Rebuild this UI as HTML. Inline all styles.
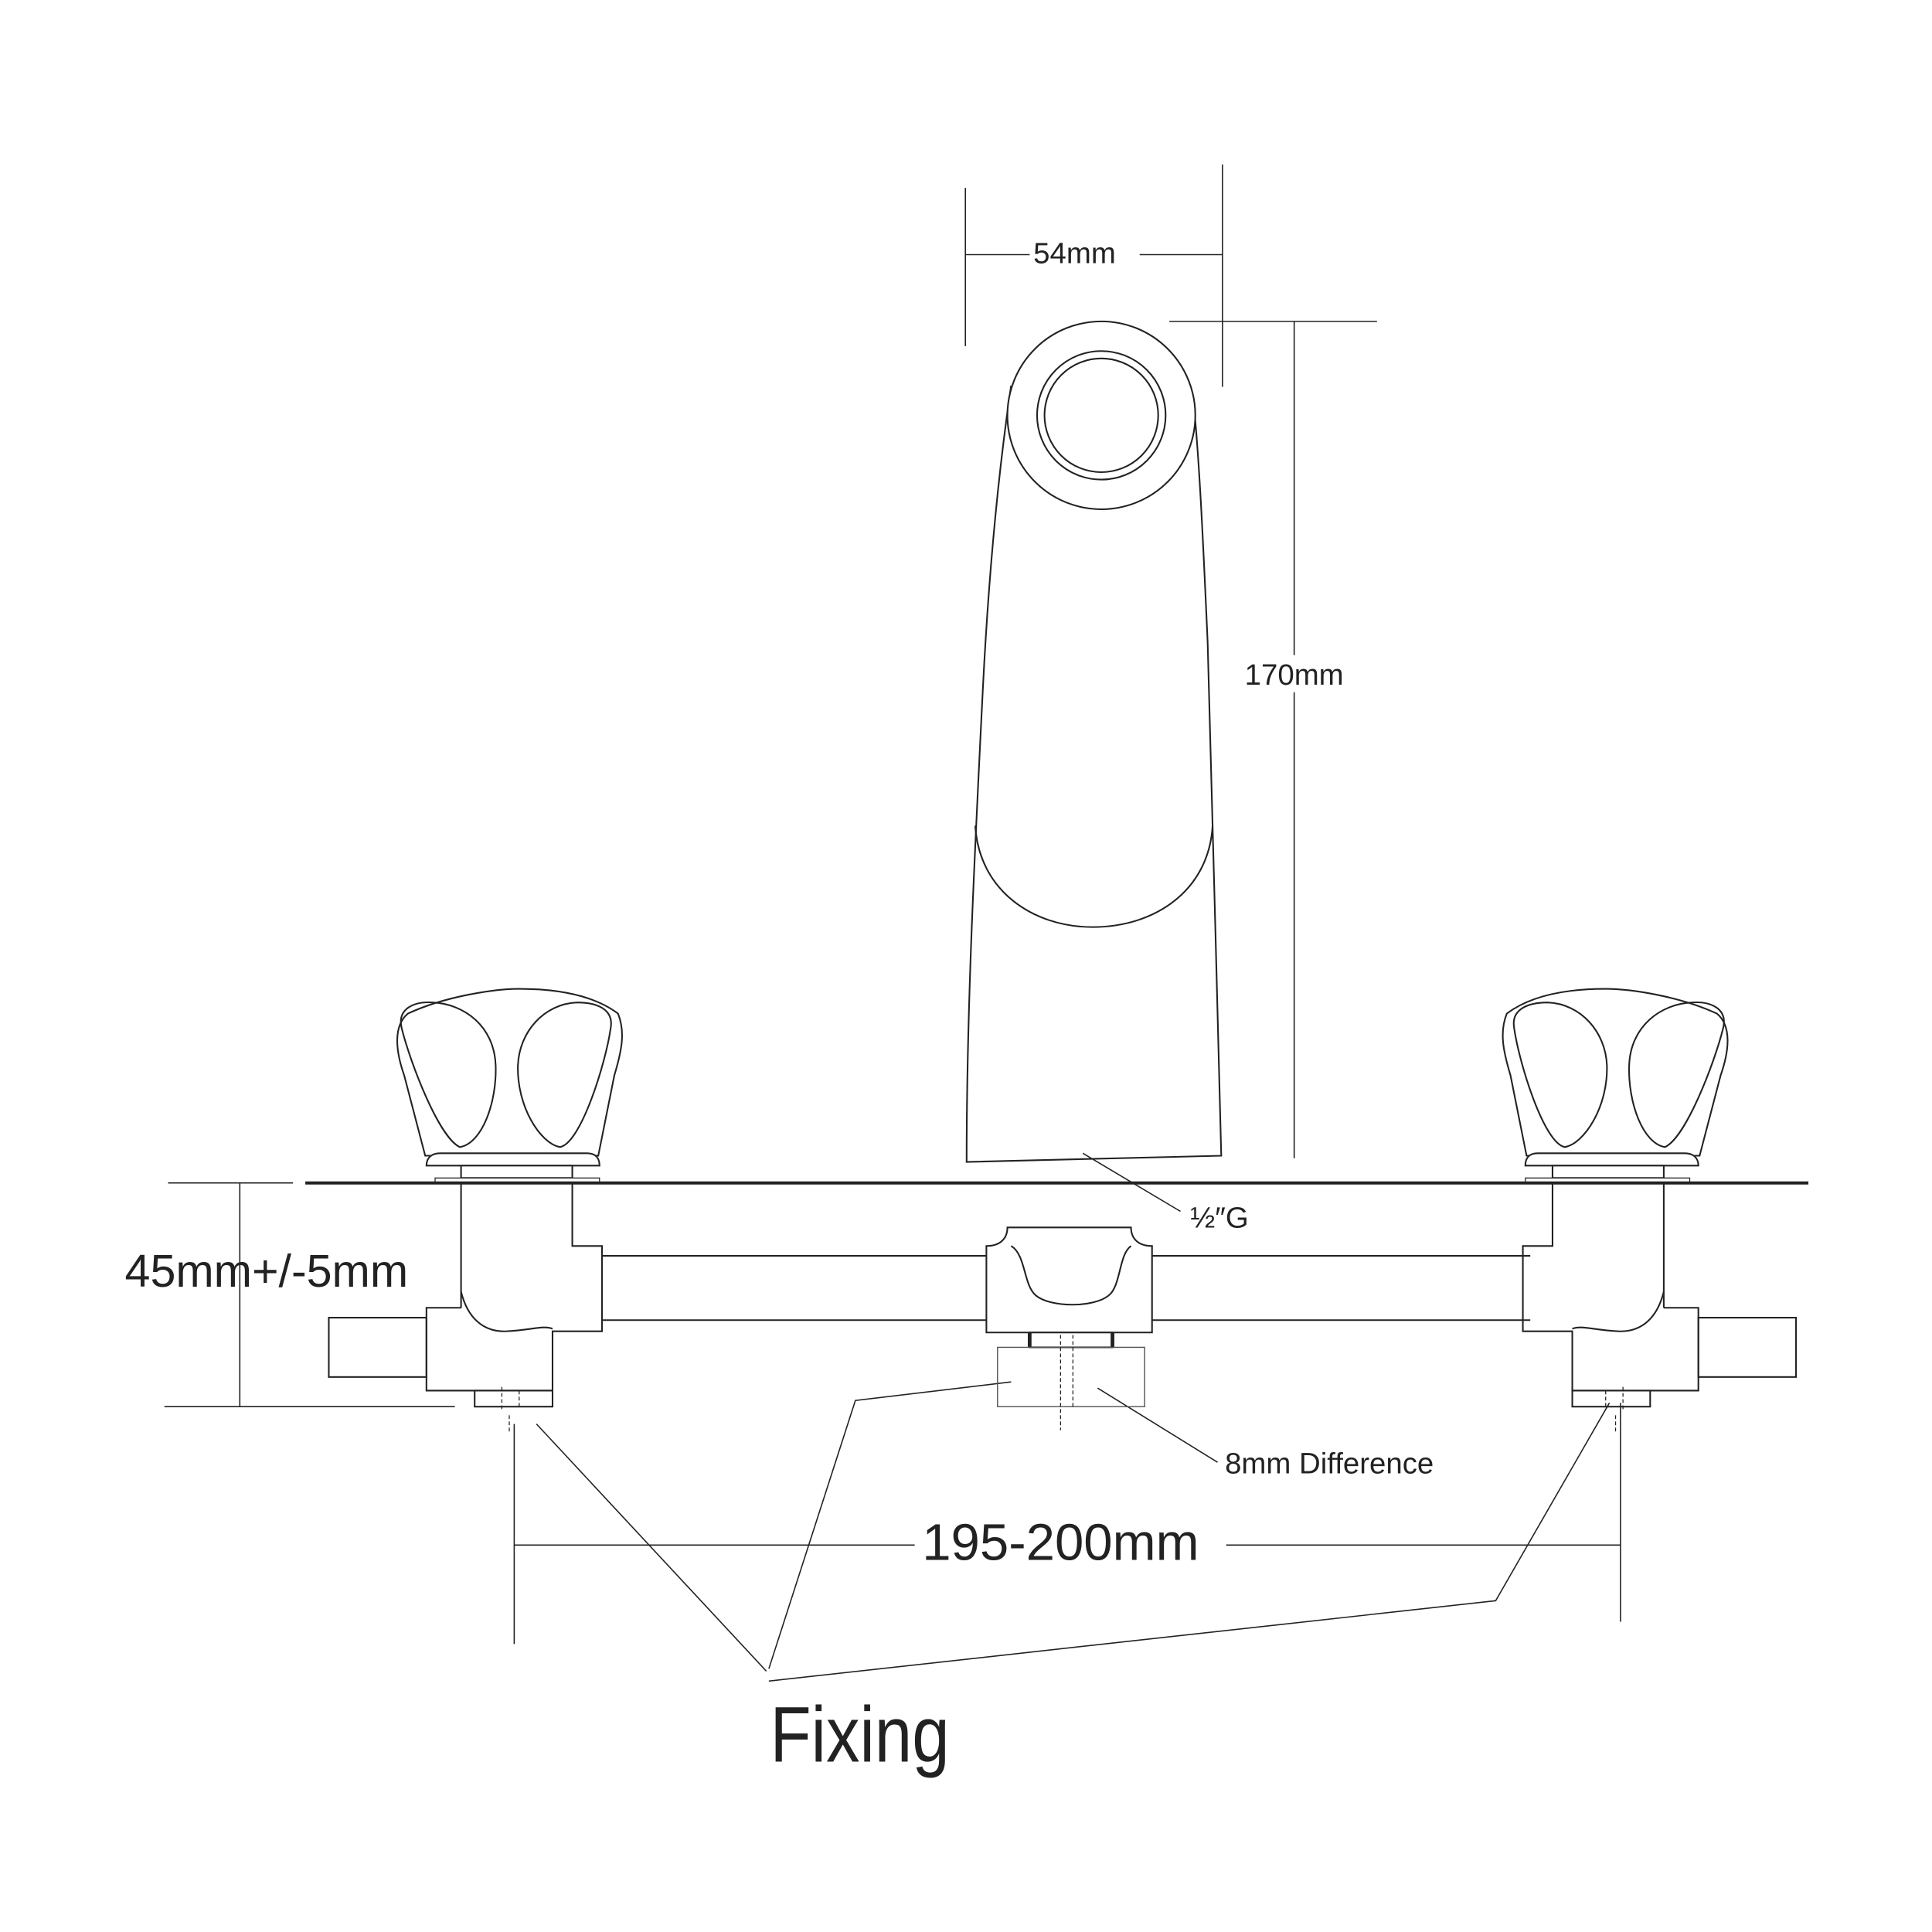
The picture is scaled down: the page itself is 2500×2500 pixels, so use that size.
<!DOCTYPE html>
<html><head><meta charset="utf-8"><style>html,body{margin:0;padding:0;background:#fff}svg{display:block}</style></head>
<body>
<svg width="2500" height="2500" viewBox="0 0 1563 1563" xmlns="http://www.w3.org/2000/svg" font-family="Liberation Sans, sans-serif" fill="none" stroke="#222" stroke-width="1.3">
<path d="M818,312 C808,380 800,460 795,560 C788,700 782,820 782,940 L988,935 C985,800 980,650 977,520 C973,430 970,370 966,330" fill="#fff"/>
<circle cx="891" cy="336" r="76" fill="#fff"/>
<circle cx="891" cy="336" r="52"/>
<circle cx="891" cy="336" r="46"/>
<path d="M789,668 C792,720 835,750 884,750 C935,750 978,720 981,668"/>
<g stroke-width="1">
<line x1="781" y1="152" x2="781" y2="280"/><line x1="989" y1="133" x2="989" y2="313"/>
<line x1="781" y1="206" x2="833" y2="206"/><line x1="922" y1="206" x2="989" y2="206"/>
<line x1="946" y1="260" x2="1114" y2="260"/><line x1="1047" y1="260" x2="1047" y2="937"/>
<line x1="876" y1="933" x2="955" y2="980"/>
<line x1="136" y1="957" x2="237" y2="957"/><line x1="133" y1="1138" x2="368" y2="1138"/><line x1="194" y1="957" x2="194" y2="1138"/>
<line x1="416" y1="1152" x2="416" y2="1330"/><line x1="1311" y1="1135" x2="1311" y2="1312"/>
<line x1="416" y1="1250" x2="740" y2="1250"/><line x1="992" y1="1250" x2="1311" y2="1250"/>
<line x1="888" y1="1123" x2="985" y2="1183"/>
<polyline points="434,1152 620,1352"/>
<polyline points="622,1350 692,1133 818,1118"/>
<polyline points="622,1360 1210,1295 1302,1135"/>
</g>
<rect x="1005" y="530" width="94" height="30" fill="#fff" stroke="none"/>
<g fill="#222" stroke="none">
<text x="836" y="213" font-size="24">54mm</text>
<text x="1007" y="554" font-size="24">170mm</text>
<text x="963" y="993" font-size="24">½″G</text>
<text x="101" y="1041" font-size="37">45mm+/-5mm</text>
<text x="991" y="1192" font-size="24">8mm Difference</text>
<text x="746" y="1262" font-size="42">195-200mm</text>
<text x="623" y="1425" font-size="64" transform="translate(623,1425) scale(0.85,1) translate(-623,-1425)">Fixing</text>
</g>
<defs>
<g id="side">
<path d="M330,820 C360,806 400,800 420,800 C450,800 480,805 500,820 C506,835 503,850 497,870 L484,935 L344,935 L327,870 C320,850 318,830 330,820 Z" fill="#fff"/>
<path d="M372,928 C355,920 332,860 325,832 C321,816 335,810 350,811 C375,812 400,830 401,862 C402,892 390,925 372,928 Z"/>
<path d="M453,928 C470,925 490,860 494,832 C497,816 482,811 467,811 C440,812 420,835 419,862 C418,895 437,925 453,928 Z"/>
<path d="M345,943 C345,936 350,933 356,933 L475,933 C481,933 485,936 485,943 Z" fill="#fff"/>
<rect x="373" y="943" width="90" height="10" fill="#fff"/>
<rect x="352" y="953" width="133" height="4" fill="#fff" stroke-width="0.8"/>
<path d="M373,957 L373,1058 M463,957 L463,1008 L487,1008 L487,1077 L447,1077 L447,1125 L345,1125 L345,1058 L373,1058"/>
<path d="M373,1045 C378,1065 390,1078 410,1077 C430,1076 440,1072 447,1075"/>
<rect x="266" y="1066" width="79" height="48"/>
<rect x="384" y="1125" width="63" height="13"/>
<g stroke-dasharray="3,2" stroke-width="0.8"><line x1="406" y1="1122" x2="406" y2="1142"/><line x1="420" y1="1125" x2="420" y2="1140"/><line x1="412" y1="1145" x2="412" y2="1160"/></g>
</g>
</defs>
<use href="#side"/>
<use href="#side" transform="translate(1719,0) scale(-1,1)"/>
<line x1="247" y1="957" x2="1463" y2="957" stroke-width="2.5"/>
<line x1="487" y1="1016" x2="798" y2="1016"/><line x1="487" y1="1068" x2="798" y2="1068"/>
<line x1="932" y1="1016" x2="1238" y2="1016"/><line x1="932" y1="1068" x2="1238" y2="1068"/>
<path d="M798,1008 L798,1078 L932,1078 L932,1008 C922,1008 915,1003 915,993 L815,993 C815,1003 808,1008 798,1008 Z" fill="#fff"/>
<path d="M818,1008 C830,1015 828,1040 838,1048 C850,1058 885,1058 897,1048 C907,1040 905,1015 915,1008"/>
<rect x="833" y="1078" width="67" height="12" fill="#fff"/>
<line x1="833" y1="1078" x2="833" y2="1090" stroke-width="3"/><line x1="900" y1="1078" x2="900" y2="1090" stroke-width="3"/>
<rect x="807" y="1090" width="119" height="48" stroke-width="0.9" stroke="#555"/>
<g stroke-dasharray="3,2" stroke-width="0.8"><line x1="858" y1="1080" x2="858" y2="1157"/><line x1="868" y1="1080" x2="868" y2="1140"/></g>
</svg>
</body></html>
